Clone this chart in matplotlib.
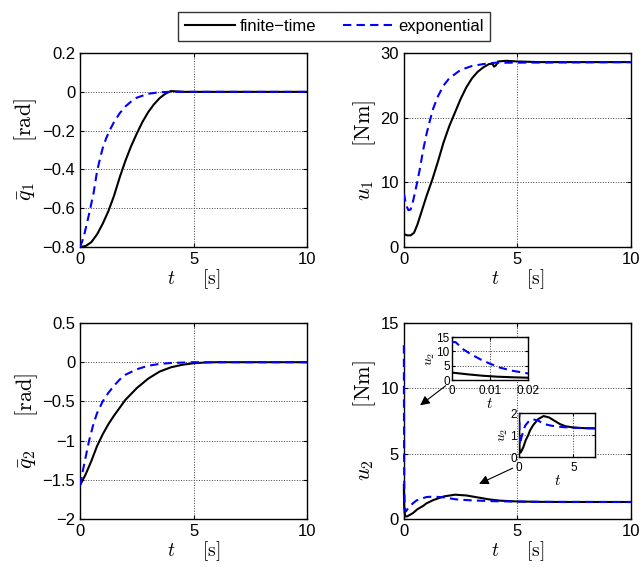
import matplotlib
matplotlib.use('Agg')
import matplotlib.pyplot as plt

plt.rcParams['font.family'] = ['Liberation Sans', 'DejaVu Sans']
plt.rcParams['mathtext.fontset'] = 'cm'

# q1 (rad)
t_q1_ft = [0, 0.25, 0.5, 0.75, 1.0, 1.25, 1.5, 1.75, 2.0, 2.25, 2.5, 2.75, 3.0, 3.25, 3.5, 3.75, 4.0, 4.3, 4.6, 10]
q1_ft = [-0.8, -0.795, -0.775, -0.735, -0.68, -0.615, -0.535, -0.44, -0.355, -0.28, -0.215, -0.155,
         -0.105, -0.065, -0.033, -0.01, 0.004, 0.002, 0.0, 0.0]
t_q1_ex = [0, 0.1, 0.2, 0.3, 0.4, 0.5, 0.6, 0.75, 0.9, 1.0, 1.15, 1.3, 1.5, 1.75, 2.0, 2.25, 2.5, 3.0, 3.5, 4.0, 10]
q1_ex = [-0.8, -0.77, -0.73, -0.68, -0.63, -0.575, -0.52, -0.41, -0.335, -0.29, -0.24, -0.2, -0.155,
         -0.11, -0.075, -0.05, -0.03, -0.01, -0.002, 0.0, 0.0]

# u1 (Nm)
t_u1_ft = [0, 0.15, 0.3, 0.45, 0.6, 0.8, 1.0, 1.25, 1.5, 1.75, 2.0, 2.25, 2.5, 2.75, 3.0, 3.25, 3.5,
           3.75, 3.9, 3.97, 4.05, 4.15, 4.5, 5, 6, 10]
u1_ft = [2.0, 1.8, 1.8, 2.2, 3.5, 5.7, 7.9, 10.4, 13.2, 16.2, 18.7, 20.8, 22.9, 24.7, 26.1, 27.1, 27.8,
         28.3, 28.35, 27.9, 28.1, 28.7, 28.8, 28.7, 28.6, 28.6]
t_u1_ex = [0, 0.1, 0.2, 0.3, 0.4, 0.5, 0.6, 0.7, 0.85, 1.0, 1.15, 1.3, 1.5, 1.75, 2.0, 2.5, 3.0, 3.5, 4.0, 10]
u1_ex = [8.3, 6.5, 5.7, 5.8, 7.0, 8.6, 10.2, 12.0, 15.0, 17.5, 19.6, 21.5, 23.3, 25.0, 26.1, 27.4,
         28.0, 28.3, 28.5, 28.6]

# q2 (rad)
t_q2_ft = [0, 0.25, 0.5, 0.75, 1.0, 1.25, 1.5, 1.75, 2.0, 2.5, 3.0, 3.5, 4.0, 4.5, 5.0, 5.5, 6, 10]
q2_ft = [-1.57, -1.43, -1.26, -1.07, -0.92, -0.79, -0.68, -0.58, -0.48, -0.33, -0.21, -0.12,
         -0.065, -0.033, -0.013, -0.004, 0, 0]
t_q2_ex = [0, 0.1, 0.2, 0.3, 0.4, 0.5, 0.6, 0.75, 1.0, 1.25, 1.5, 1.75, 2.0, 2.5, 3.0, 3.5, 4.0, 5.0, 10]
q2_ex = [-1.57, -1.42, -1.28, -1.14, -1.0, -0.89, -0.78, -0.65, -0.5, -0.39, -0.3, -0.22, -0.16,
         -0.09, -0.045, -0.022, -0.01, 0, 0]

# u2 (Nm)
t_u2_ft = [0, 0.004, 0.008, 0.012, 0.016, 0.02, 0.04, 0.07, 0.15, 0.4, 0.6, 0.85, 1.0, 1.3, 1.75,
           2.25, 2.75, 3.25, 3.75, 4.25, 5, 6, 7, 10]
u2_ft = [2.6, 2.0, 1.5, 1.15, 0.95, 0.8, 0.4, 0.2, 0.2, 0.45, 0.75, 1.0, 1.2, 1.45, 1.72,
         1.86, 1.8, 1.65, 1.5, 1.4, 1.34, 1.31, 1.3, 1.3]
t_u2_ex = [0, 0.001, 0.003, 0.005, 0.0075, 0.01, 0.0127, 0.016, 0.02, 0.04, 0.07, 0.12, 0.2, 0.4,
           0.56, 0.85, 1.0, 1.3, 1.74, 2.3, 3.0, 4.0, 5, 6, 10]
u2_ex = [13.3, 13.2, 10.7, 9.0, 7.2, 5.7, 4.3, 3.2, 2.3, 0.9, 0.55, 0.65, 0.85, 1.2,
         1.42, 1.6, 1.68, 1.71, 1.66, 1.5, 1.42, 1.36, 1.33, 1.31, 1.3]


def style_axes(ax, ticksize=12):
    ax.grid(True, linestyle=':', color='0.25', linewidth=0.7)
    ax.tick_params(direction='in', top=True, right=True, labelsize=ticksize, length=3)
    for s in ax.spines.values():
        s.set_linewidth(1.0)


def plot_pair(ax, t_ft, y_ft, t_ex, y_ex):
    l1, = ax.plot(t_ft, y_ft, color='k', lw=1.5, zorder=3, label='finite\u2212time')
    l2, = ax.plot(t_ex, y_ex, color='b', lw=1.5, ls=(0, (4, 2.5)), zorder=3, label='exponential')
    return l1, l2


def minus_labels(vals):
    return [('%g' % v).replace('-', '\u2212') for v in vals]


fig = plt.figure(figsize=(6.4, 5.67), dpi=100)

ax1 = fig.add_axes([0.125, 0.5644, 0.355, 0.342])
ax2 = fig.add_axes([0.631, 0.5644, 0.355, 0.342])
ax3 = fig.add_axes([0.125, 0.0847, 0.355, 0.3456])
ax4 = fig.add_axes([0.631, 0.0847, 0.355, 0.3456])

lines = plot_pair(ax1, t_q1_ft, q1_ft, t_q1_ex, q1_ex)
plot_pair(ax2, t_u1_ft, u1_ft, t_u1_ex, u1_ex)
plot_pair(ax3, t_q2_ft, q2_ft, t_q2_ex, q2_ex)
u2_lines = plot_pair(ax4, t_u2_ft, u2_ft, t_u2_ex, u2_ex)
# the steep start of u2 sits on the left spine, keep it fully visible
for ln in u2_lines:
    ln.set_clip_on(False)

yt1 = [-0.8, -0.6, -0.4, -0.2, 0, 0.2]
yt3 = [-2, -1.5, -1, -0.5, 0, 0.5]
settings = [
    (ax1, (-0.8, 0.2), yt1, r'$\bar{q}_1\quad\ \ \ [\mathrm{rad}]$'),
    (ax2, (0, 30), [0, 10, 20, 30], r'$u_1\quad\ \ [\mathrm{Nm}]$'),
    (ax3, (-2, 0.5), yt3, r'$\bar{q}_2\quad\ \ [\mathrm{rad}]$'),
    (ax4, (0, 15), [0, 5, 10, 15], r'$u_2\quad\ \ \ \ \ [\mathrm{Nm}]$'),
]
for ax, ylim, yt, ylab in settings:
    ax.set_xlim(0, 10)
    ax.set_ylim(*ylim)
    ax.set_xticks([0, 5, 10])
    ax.set_yticks(yt)
    ax.set_yticklabels(minus_labels(yt))
    style_axes(ax)
    ax.set_ylabel(ylab, fontsize=16, labelpad=2)
    ax.set_xlabel(r'$t\quad\ \ [\mathrm{s}]$', fontsize=14, labelpad=0)

# insets on u2
in1 = fig.add_axes([0.706, 0.3298, 0.119, 0.0758])
in2 = fig.add_axes([0.811, 0.194, 0.119, 0.0776])
plot_pair(in1, t_u2_ft, u2_ft, t_u2_ex, u2_ex)
plot_pair(in2, t_u2_ft, u2_ft, t_u2_ex, u2_ex)
in1.set_xlim(0, 0.02)
in1.set_ylim(0, 15)
in1.set_xticks([0, 0.01, 0.02])
in1.set_xticklabels(['0', '0.01', '0.02'])
in1.set_yticks([0, 5, 10, 15])
in2.set_xlim(0, 7)
in2.set_ylim(0, 2)
in2.set_xticks([0, 5])
in2.set_yticks([0, 1, 2])
for ax in (in1, in2):
    style_axes(ax, ticksize=8.5)
    ax.tick_params(axis='x', pad=3.5, length=2)
    ax.tick_params(axis='y', pad=1.5, length=2)
    ax.set_ylabel(r'$u_2$', fontsize=10, labelpad=0)
    ax.set_xlabel(r'$t$', fontsize=11, labelpad=0)

arrow = dict(arrowstyle='-|>', color='k', lw=0.8, mutation_scale=14)
ax4.annotate('', xy=(0.62, 8.57), xytext=(1.94, 10.33), arrowprops=arrow)
ax4.annotate('', xy=(3.2, 2.6), xytext=(4.9, 3.98), arrowprops=arrow)

leg = fig.legend(lines, [l.get_label() for l in lines], loc='center',
                 bbox_to_anchor=(0.522, 0.953), ncol=2, fontsize=12,
                 frameon=True, fancybox=False, handlelength=3.0,
                 columnspacing=1.6, borderpad=0.4, handletextpad=0.3)
leg.get_frame().set_edgecolor('k')
leg.get_frame().set_linewidth(1.0)

fig.savefig('out.png', dpi=100)
